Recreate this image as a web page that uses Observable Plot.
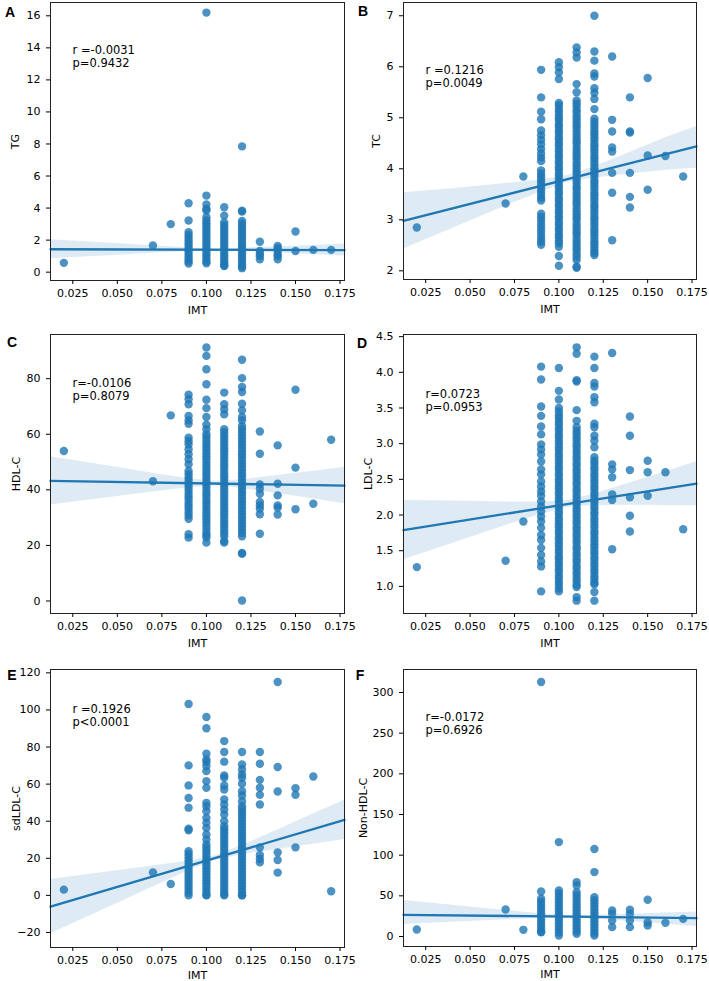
<!DOCTYPE html>
<html>
<head>
<meta charset="utf-8">
<script src="https://cdn.jsdelivr.net/npm/d3@7"></script>
<script src="https://cdn.jsdelivr.net/npm/@observablehq/plot@0.6"></script>
<style>
  html, body { margin: 0; padding: 0; background: #fff; }
  #fig { position: relative; width: 709px; height: 981px; background: #fff; overflow: hidden; }
  #fig > div.panel { position: absolute; }
  #fig > div.letter { position: absolute; font: bold 14px "Liberation Sans", Arial, sans-serif; color: #000; transform: translate(-50%, -50%); }
</style>
</head>
<body>
<div id="fig"></div>
<script>
// ---------- shared x (IMT) ----------
const imtLevels = [0.02, 0.07, 0.08, 0.09, 0.10, 0.11, 0.12, 0.13, 0.14, 0.15, 0.16, 0.17];
const imtTicks = [0.025, 0.05, 0.075, 0.1, 0.125, 0.15, 0.175];
const fitX = [0.0125, 0.1775];
const bandX = [0.0125, 0.04, 0.07, 0.09, 0.105, 0.12, 0.14, 0.16, 0.1775];

// ---------- A: TG ----------
const tgCols = [
  [0.58],
  [1.66],
  [3.0],
  [4.3, 3.22, 2.5, 2.32, 2.15, 1.98, 1.8, 1.64, 1.47, 1.3, 1.14, 0.97, 0.81, 0.66, 0.54],
  [16.2, 4.78, 4.22, 3.95, 3.85, 3.43, 3.22, 3.05, 2.88, 2.71, 2.54, 2.37, 2.2, 2.03, 1.86, 1.69, 1.52, 1.35, 1.18, 1.01, 0.84, 0.67, 0.55],
  [4.05, 3.53, 3.1, 2.93, 2.76, 2.59, 2.42, 2.25, 2.08, 1.91, 1.74, 1.57, 1.4, 1.23, 1.06, 0.89, 0.72, 0.55, 0.42, 0.38],
  [7.85, 3.83, 3.78, 3.2, 3.03, 2.86, 2.69, 2.52, 2.35, 2.18, 2.01, 1.84, 1.67, 1.5, 1.33, 1.16, 0.99, 0.82, 0.65, 0.48, 0.34, 0.25],
  [1.9, 1.32, 1.15, 1.0, 0.8],
  [1.63, 1.5, 1.32, 1.1, 1.0, 0.8],
  [2.54, 1.32],
  [1.39],
  [1.39]
];
const tgFit = [1.43, 1.37];
const tgLo = [0.83, 0.99, 1.18, 1.29, 1.34, 1.30, 1.20, 1.09, 1.01];
const tgHi = [2.03, 1.85, 1.65, 1.51, 1.46, 1.49, 1.58, 1.67, 1.76];
const tgTicks = [0, 2, 4, 6, 8, 10, 12, 14, 16];

// ---------- B: TC ----------
const tcCols = [
  [2.85],
  [3.32],
  [3.85],
  [5.94, 5.40, 5.12, 4.97, 4.75, 4.66, 4.57, 4.48, 4.39, 4.3, 4.22, 4.15, 3.97, 3.91, 3.85, 3.79, 3.73, 3.67, 3.61, 3.55, 3.49, 3.43, 3.38, 3.12, 3.05, 2.98, 2.91, 2.84, 2.77, 2.7, 2.63, 2.57, 2.51],
  [6.09, 5.99, 5.89, 5.76, 5.29, 5.24, 5.17, 5.12, 5.05, 4.99, 4.94, 4.87, 4.82, 4.75, 4.7, 4.63, 4.58, 4.51, 4.46, 4.39, 4.34, 4.27, 4.22, 4.15, 4.1, 4.03, 3.98, 3.91, 3.86, 3.79, 3.74, 3.67, 3.62, 3.55, 3.5, 3.43, 3.38, 3.31, 3.26, 3.19, 3.14, 3.07, 3.02, 2.95, 2.9, 2.83, 2.78, 2.71, 2.66, 2.59, 2.54, 2.47, 2.29, 2.1],
  [6.38, 6.28, 6.18, 5.66, 5.5, 5.34, 5.28, 5.22, 5.15, 5.1, 5.03, 4.97, 4.91, 4.85, 4.8, 4.73, 4.67, 4.61, 4.55, 4.5, 4.43, 4.37, 4.31, 4.25, 4.2, 4.13, 4.07, 4.01, 3.95, 3.9, 3.83, 3.77, 3.71, 3.65, 3.6, 3.53, 3.47, 3.41, 3.35, 3.3, 3.23, 3.17, 3.11, 3.05, 3.0, 2.93, 2.87, 2.81, 2.75, 2.7, 2.63, 2.57, 2.51, 2.45, 2.4, 2.33, 2.27, 2.21, 2.08, 2.06],
  [7.0, 6.3, 6.12, 5.87, 5.81, 5.58, 5.49, 5.37, 5.17, 4.98, 4.92, 4.86, 4.8, 4.73, 4.68, 4.62, 4.56, 4.49, 4.44, 4.38, 4.32, 4.25, 4.2, 4.14, 4.08, 4.01, 3.96, 3.9, 3.84, 3.77, 3.72, 3.66, 3.6, 3.53, 3.48, 3.42, 3.36, 3.29, 3.24, 3.18, 3.12, 3.05, 3.0, 2.94, 2.88, 2.81, 2.76, 2.7, 2.64, 2.57, 2.52, 2.46, 2.4, 2.35, 2.31],
  [6.20, 4.96, 4.73, 4.42, 4.34, 3.92, 3.53, 2.60],
  [5.40, 4.73, 4.71, 3.92, 3.45, 3.24],
  [5.78, 4.26, 3.59],
  [4.25],
  [3.85]
];
const tcFit = [2.98, 4.44];
const tcLo = [2.43, 2.83, 3.27, 3.55, 3.73, 3.82, 3.90, 3.97, 4.01];
const tcHi = [3.53, 3.61, 3.71, 3.78, 3.87, 4.04, 4.32, 4.61, 4.83];
const tcTicks = [2, 3, 4, 5, 6, 7];

// ---------- C: HDL-C ----------
const hdlCols = [
  [54.0],
  [43.1],
  [66.8],
  [74.2, 72.6, 70.8, 66.6, 65.0, 63.8, 58.8, 57.6, 56.4, 54.6, 52.8, 51.0, 49.2, 46.8, 45.6, 44.4, 43.3, 42.1, 41.0, 39.9, 38.7, 37.6, 36.5, 35.3, 34.2, 33.1, 31.9, 30.8, 29.6, 24.0, 22.8],
  [91.2, 88.2, 83.4, 78.0, 72.4, 69.4, 66.2, 63.4, 61.8, 60.0, 58.9, 57.8, 56.6, 55.5, 54.4, 53.2, 52.1, 51.0, 49.8, 48.7, 47.6, 46.4, 45.3, 44.2, 43.0, 41.9, 40.8, 39.6, 38.5, 37.4, 36.2, 35.1, 34.0, 32.8, 31.7, 30.6, 29.4, 28.3, 27.2, 25.9, 24.6, 23.7, 22.8, 21.0],
  [75.0, 70.8, 69.0, 67.2, 61.8, 60.7, 59.5, 58.4, 57.3, 56.1, 55.0, 53.9, 52.7, 51.6, 50.5, 49.3, 48.2, 47.1, 45.9, 44.8, 43.7, 42.5, 41.4, 40.3, 39.1, 38.0, 36.9, 35.7, 34.6, 33.5, 32.3, 31.2, 30.1, 28.9, 27.8, 26.7, 25.5, 24.4, 23.3, 21.6, 21.0],
  [86.8, 80.2, 77.0, 75.2, 71.0, 68.6, 66.2, 65.0, 63.0, 61.9, 60.7, 59.6, 58.5, 57.3, 56.2, 55.1, 53.9, 52.8, 51.7, 50.5, 49.4, 48.3, 47.1, 46.0, 44.9, 43.7, 42.6, 41.5, 40.3, 39.2, 38.1, 36.9, 35.8, 34.7, 33.5, 32.4, 31.3, 30.1, 29.0, 27.9, 26.7, 25.6, 24.5, 23.3, 17.0, 17.3, 0.2],
  [61.0, 53.0, 41.9, 40.4, 38.6, 35.6, 34.4, 33.2, 31.2, 24.2],
  [56.0, 42.2, 38.0, 34.4, 33.6, 31.1],
  [76.0, 48.0, 33.0],
  [35.0],
  [58.0]
];
const hdlFit = [43.2, 41.5];
const hdlLo = [34.5, 36.76, 39.22, 40.78, 41.45, 40.52, 38.64, 36.67, 35.0];
const hdlHi = [51.9, 49.08, 46.0, 44.02, 43.05, 43.66, 45.14, 46.69, 48.0];
const hdlTicks = [0, 20, 40, 60, 80];

// ---------- D: LDL-C ----------
const ldlCols = [
  [1.27],
  [1.36],
  [1.91],
  [4.08, 3.90, 3.52, 3.39, 3.24, 3.13, 2.99, 2.92, 2.85, 2.75, 2.64, 2.57, 2.47, 2.40, 2.33, 2.27, 2.19, 2.12, 2.05, 1.98, 1.91, 1.82, 1.72, 1.65, 1.54, 1.44, 1.35, 1.28, 0.93],
  [4.06, 3.74, 3.62, 3.50, 3.45, 3.4, 3.36, 3.31, 3.27, 3.22, 3.18, 3.13, 3.09, 3.04, 3.0, 2.95, 2.91, 2.86, 2.82, 2.77, 2.73, 2.68, 2.64, 2.59, 2.55, 2.5, 2.46, 2.41, 2.37, 2.32, 2.28, 2.23, 2.19, 2.14, 2.1, 2.05, 2.01, 1.96, 1.92, 1.87, 1.83, 1.78, 1.74, 1.69, 1.65, 1.6, 1.56, 1.51, 1.47, 1.42, 1.38, 1.33, 1.29, 1.24, 1.2, 1.15, 1.11, 1.06, 1.02, 0.97, 0.93],
  [4.35, 4.26, 3.89, 3.87, 3.47, 3.32, 3.23, 3.18, 3.14, 3.09, 3.05, 3.0, 2.96, 2.91, 2.87, 2.82, 2.78, 2.73, 2.69, 2.64, 2.6, 2.55, 2.51, 2.46, 2.42, 2.37, 2.33, 2.28, 2.24, 2.19, 2.15, 2.1, 2.06, 2.01, 1.97, 1.92, 1.88, 1.83, 1.79, 1.74, 1.7, 1.65, 1.61, 1.56, 1.52, 1.47, 1.43, 1.38, 1.34, 1.29, 1.25, 1.2, 1.16, 1.11, 1.07, 1.02, 0.99, 0.85, 0.80],
  [4.22, 4.06, 3.85, 3.80, 3.65, 3.58, 3.28, 3.23, 3.11, 3.04, 2.95, 2.81, 2.76, 2.72, 2.67, 2.63, 2.58, 2.54, 2.49, 2.45, 2.4, 2.36, 2.31, 2.27, 2.22, 2.18, 2.13, 2.09, 2.04, 2.0, 1.95, 1.91, 1.86, 1.82, 1.77, 1.73, 1.68, 1.64, 1.59, 1.55, 1.5, 1.46, 1.41, 1.37, 1.32, 1.28, 1.23, 1.19, 1.14, 1.1, 1.05, 1.03, 0.92, 0.80],
  [4.27, 2.71, 2.64, 2.53, 2.29, 2.21, 1.52],
  [3.38, 3.11, 2.63, 2.25, 1.99, 1.77],
  [2.76, 2.60, 2.27],
  [2.60],
  [1.80]
];
const ldlFit = [1.79, 2.44];
const ldlLo = [1.375, 1.60, 1.852, 2.011, 2.104, 2.134, 2.138, 2.135, 2.135];
const ldlHi = [2.205, 2.195, 2.182, 2.179, 2.204, 2.294, 2.448, 2.607, 2.745];
const ldlTicks = [1.0, 1.5, 2.0, 2.5, 3.0, 3.5, 4.0, 4.5];

// ---------- E: sdLDL-C ----------
const sdCols = [
  [3.1],
  [12.4],
  [6.1],
  [103.2, 70.1, 59.3, 52.5, 47.3, 35.9, 35.1, 23.8, 22.2, 20.6, 19.0, 17.4, 15.8, 14.2, 12.6, 11.0, 9.4, 7.8, 6.2, 4.6, 3.0, 1.4, 0.0],
  [96.2, 90.1, 76.4, 73.3, 71.9, 69.7, 67.0, 61.6, 58.0, 49.9, 48.1, 45.4, 41.8, 39.1, 36.4, 32.8, 30.1, 27.4, 25.8, 24.2, 22.6, 21.0, 19.4, 17.8, 16.2, 14.6, 13.0, 11.4, 9.8, 8.2, 6.6, 5.0, 3.4, 1.8, 0.2, 0.0],
  [83.2, 77.3, 72.1, 64.7, 63.4, 59.3, 57.1, 51.7, 49.0, 46.3, 43.6, 40.0, 37.3, 35.7, 34.1, 32.5, 30.9, 29.3, 27.7, 26.1, 24.5, 22.9, 21.3, 19.7, 18.1, 16.5, 14.9, 13.3, 11.7, 10.1, 8.5, 6.9, 5.3, 3.7, 2.1, 0.5, 0.0],
  [77.3, 70.6, 67.9, 65.2, 63.4, 60.2, 56.2, 53.9, 50.8, 48.1, 46.5, 44.9, 43.3, 41.7, 40.1, 38.5, 36.9, 35.3, 33.7, 32.1, 30.5, 28.9, 27.3, 25.7, 24.1, 22.5, 20.9, 19.3, 17.7, 16.1, 14.5, 12.9, 11.3, 9.7, 8.1, 6.5, 4.9, 3.3, 1.7, 0.1, 0.0],
  [77.3, 71.0, 62.3, 58.0, 54.2, 49.0, 25.9, 21.8, 19.6, 17.8],
  [115.1, 69.2, 56.0, 23.2, 19.1, 12.3],
  [57.8, 54.2, 25.9],
  [64.1],
  [2.2]
];
const sdFit = [-6.1, 40.7];
const sdLo = [-20.7, -8.64, 4.55, 13.22, 18.93, 21.89, 24.81, 27.61, 30.1];
const sdHi = [8.5, 12.04, 15.87, 18.54, 21.33, 26.89, 35.31, 43.85, 51.3];
const sdTicks = [-20, 0, 20, 40, 60, 80, 100, 120];

// ---------- F: Non-HDL-C ----------
const nonCols = [
  [8.6],
  [33.2],
  [8.2],
  [313, 55.4, 46.4, 42.7, 39.0, 35.3, 31.6, 27.9, 24.2, 20.5, 16.8, 13.1, 9.4, 5.7, 5.3],
  [116.1, 56.6, 52.9, 49.2, 45.5, 41.8, 38.1, 34.4, 30.7, 27.0, 23.3, 19.6, 15.9, 12.2, 8.5, 4.8, 1.2],
  [66.9, 62.8, 54.6, 50.9, 47.2, 43.5, 39.8, 36.1, 32.4, 28.7, 25.0, 21.3, 17.6, 13.9, 10.2, 6.5, 3.3],
  [107.5, 79.2, 48.4, 44.7, 41.0, 37.3, 33.6, 29.9, 26.2, 22.5, 18.8, 15.1, 11.4, 7.7, 4.0, 1.2],
  [32.0, 27.9, 19.7, 11.5],
  [32.8, 27.9, 19.7, 11.5],
  [45.1, 17.6, 13.5],
  [16.8],
  [21.7]
];
const nonFit = [26.7, 22.6];
const nonLo = [14.8, 17.5, 20.5, 22.3, 22.9, 21.4, 18.35, 15.1, 12.3];
const nonHi = [44.3, 38.4, 32.1, 28.0, 25.9, 26.2, 27.4, 28.85, 30.0];
const nonTicks = [0, 50, 100, 150, 200, 250, 300];

// ---------- labels ----------
const panelLetters = ["A", "B", "C", "D", "E", "F"];
const yLabels = ["TG", "TC", "HDL-C", "LDL-C", "sdLDL-C", "Non-HDL-C"];
const rTexts = ["r =-0.0031", "r =0.1216", "r=-0.0106", "r=0.0723", "r =0.1926", "r=-0.0172"];
const pTexts = ["p=0.9432", "p=0.0049", "p=0.8079", "p=0.0953", "p<0.0001", "p=0.6926"];

// ---------- layout (pixels) ----------
const layout = [
  {left: 0,   top: 0,   w: 355, h: 320, ml: 50, mr: 11, mt: 2,  mb: 40, yDom: [-0.52, 16.83], ylo: 39, xlo: 33, tdy: 43, lx: 10, ly: 12},
  {left: 355, top: 0,   w: 354, h: 320, ml: 48, mr: 13, mt: 2,  mb: 41, yDom: [1.83, 7.26],   ylo: 31, xlo: 33, tdy: 63, lx: 363, ly: 11},
  {left: 0,   top: 320, w: 355, h: 330, ml: 50, mr: 11, mt: 14, mb: 37, yDom: [-4.5, 95.9],   ylo: 38, xlo: 33, tdy: 44, lx: 12, ly: 342},
  {left: 355, top: 320, w: 354, h: 330, ml: 48, mr: 13, mt: 14, mb: 37, yDom: [0.62, 4.53],   ylo: 39, xlo: 33, tdy: 55, lx: 362, ly: 343},
  {left: 0,   top: 650, w: 355, h: 331, ml: 50, mr: 11, mt: 19, mb: 34, yDom: [-28.1, 121.8], ylo: 38, xlo: 31, tdy: 35, lx: 12, ly: 675},
  {left: 355, top: 650, w: 354, h: 331, ml: 48, mr: 13, mt: 19, mb: 35, yDom: [-12.3, 328.3], ylo: 44, xlo: 31, tdy: 43, lx: 360, ly: 675}
];

const colsList = [tgCols, tcCols, hdlCols, ldlCols, sdCols, nonCols];
const fitList = [tgFit, tcFit, hdlFit, ldlFit, sdFit, nonFit];
const loList = [tgLo, tcLo, hdlLo, ldlLo, sdLo, nonLo];
const hiList = [tgHi, tcHi, hdlHi, ldlHi, sdHi, nonHi];
const tickList = [tgTicks, tcTicks, hdlTicks, ldlTicks, sdTicks, nonTicks];
const fmtList = ["d", "d", "d", ".1f", "d", "d"];

const BLUE = "#1f77b4";
const fig = document.getElementById("fig");

layout.forEach((L, i) => {
  const pts = colsList[i].flatMap((ys, j) => ys.map(y => ({x: imtLevels[j], y})));
  const fit = fitX.map((x, j) => ({x, y: fitList[i][j]}));
  const band = bandX.map((x, j) => ({x, lo: loList[i][j], hi: hiList[i][j]}));
  const chart = Plot.plot({
    width: L.w, height: L.h,
    marginLeft: L.ml, marginRight: L.mr, marginTop: L.mt, marginBottom: L.mb,
    style: {fontFamily: "DejaVu Sans", fontSize: "11px", color: "#000", background: "transparent", overflow: "visible"},
    x: {domain: [0.0125, 0.1775]},
    y: {domain: L.yDom},
    marks: [
      Plot.dot(pts, {x: "x", y: "y", r: 4.2, fill: BLUE, fillOpacity: 0.8, stroke: "none"}),
      Plot.areaY(band, {x: "x", y1: "lo", y2: "hi", fill: BLUE, fillOpacity: 0.15}),
      Plot.line(fit, {x: "x", y: "y", stroke: BLUE, strokeWidth: 2.3}),
      Plot.frame({stroke: "#222", strokeWidth: 1}),
      Plot.axisX({ticks: imtTicks, tickFormat: d3.format(".3f"), tickSize: 4, tickPadding: 5,
        label: "IMT", labelAnchor: "center", labelOffset: L.xlo, labelArrow: "none", fontSize: 11}),
      Plot.axisY({ticks: tickList[i], tickFormat: d3.format(fmtList[i]), tickSize: 4, tickPadding: 6,
        label: yLabels[i], labelAnchor: "center", labelOffset: L.ylo, labelArrow: "none", fontSize: 11}),
      Plot.text([rTexts[i] + "\n" + pTexts[i]], {frameAnchor: "top-left", dx: 22, dy: L.tdy,
        textAnchor: "start", lineAnchor: "top", lineHeight: 1.1, fontSize: 11.5, fill: "#000"})
    ]
  });
  const wrap = document.createElement("div");
  wrap.className = "panel";
  wrap.style.left = L.left + "px";
  wrap.style.top = L.top + "px";
  wrap.appendChild(chart);
  fig.appendChild(wrap);

  const letter = document.createElement("div");
  letter.className = "letter";
  letter.textContent = panelLetters[i];
  letter.style.left = L.lx + "px";
  letter.style.top = L.ly + "px";
  fig.appendChild(letter);
});
</script>
</body>
</html>
